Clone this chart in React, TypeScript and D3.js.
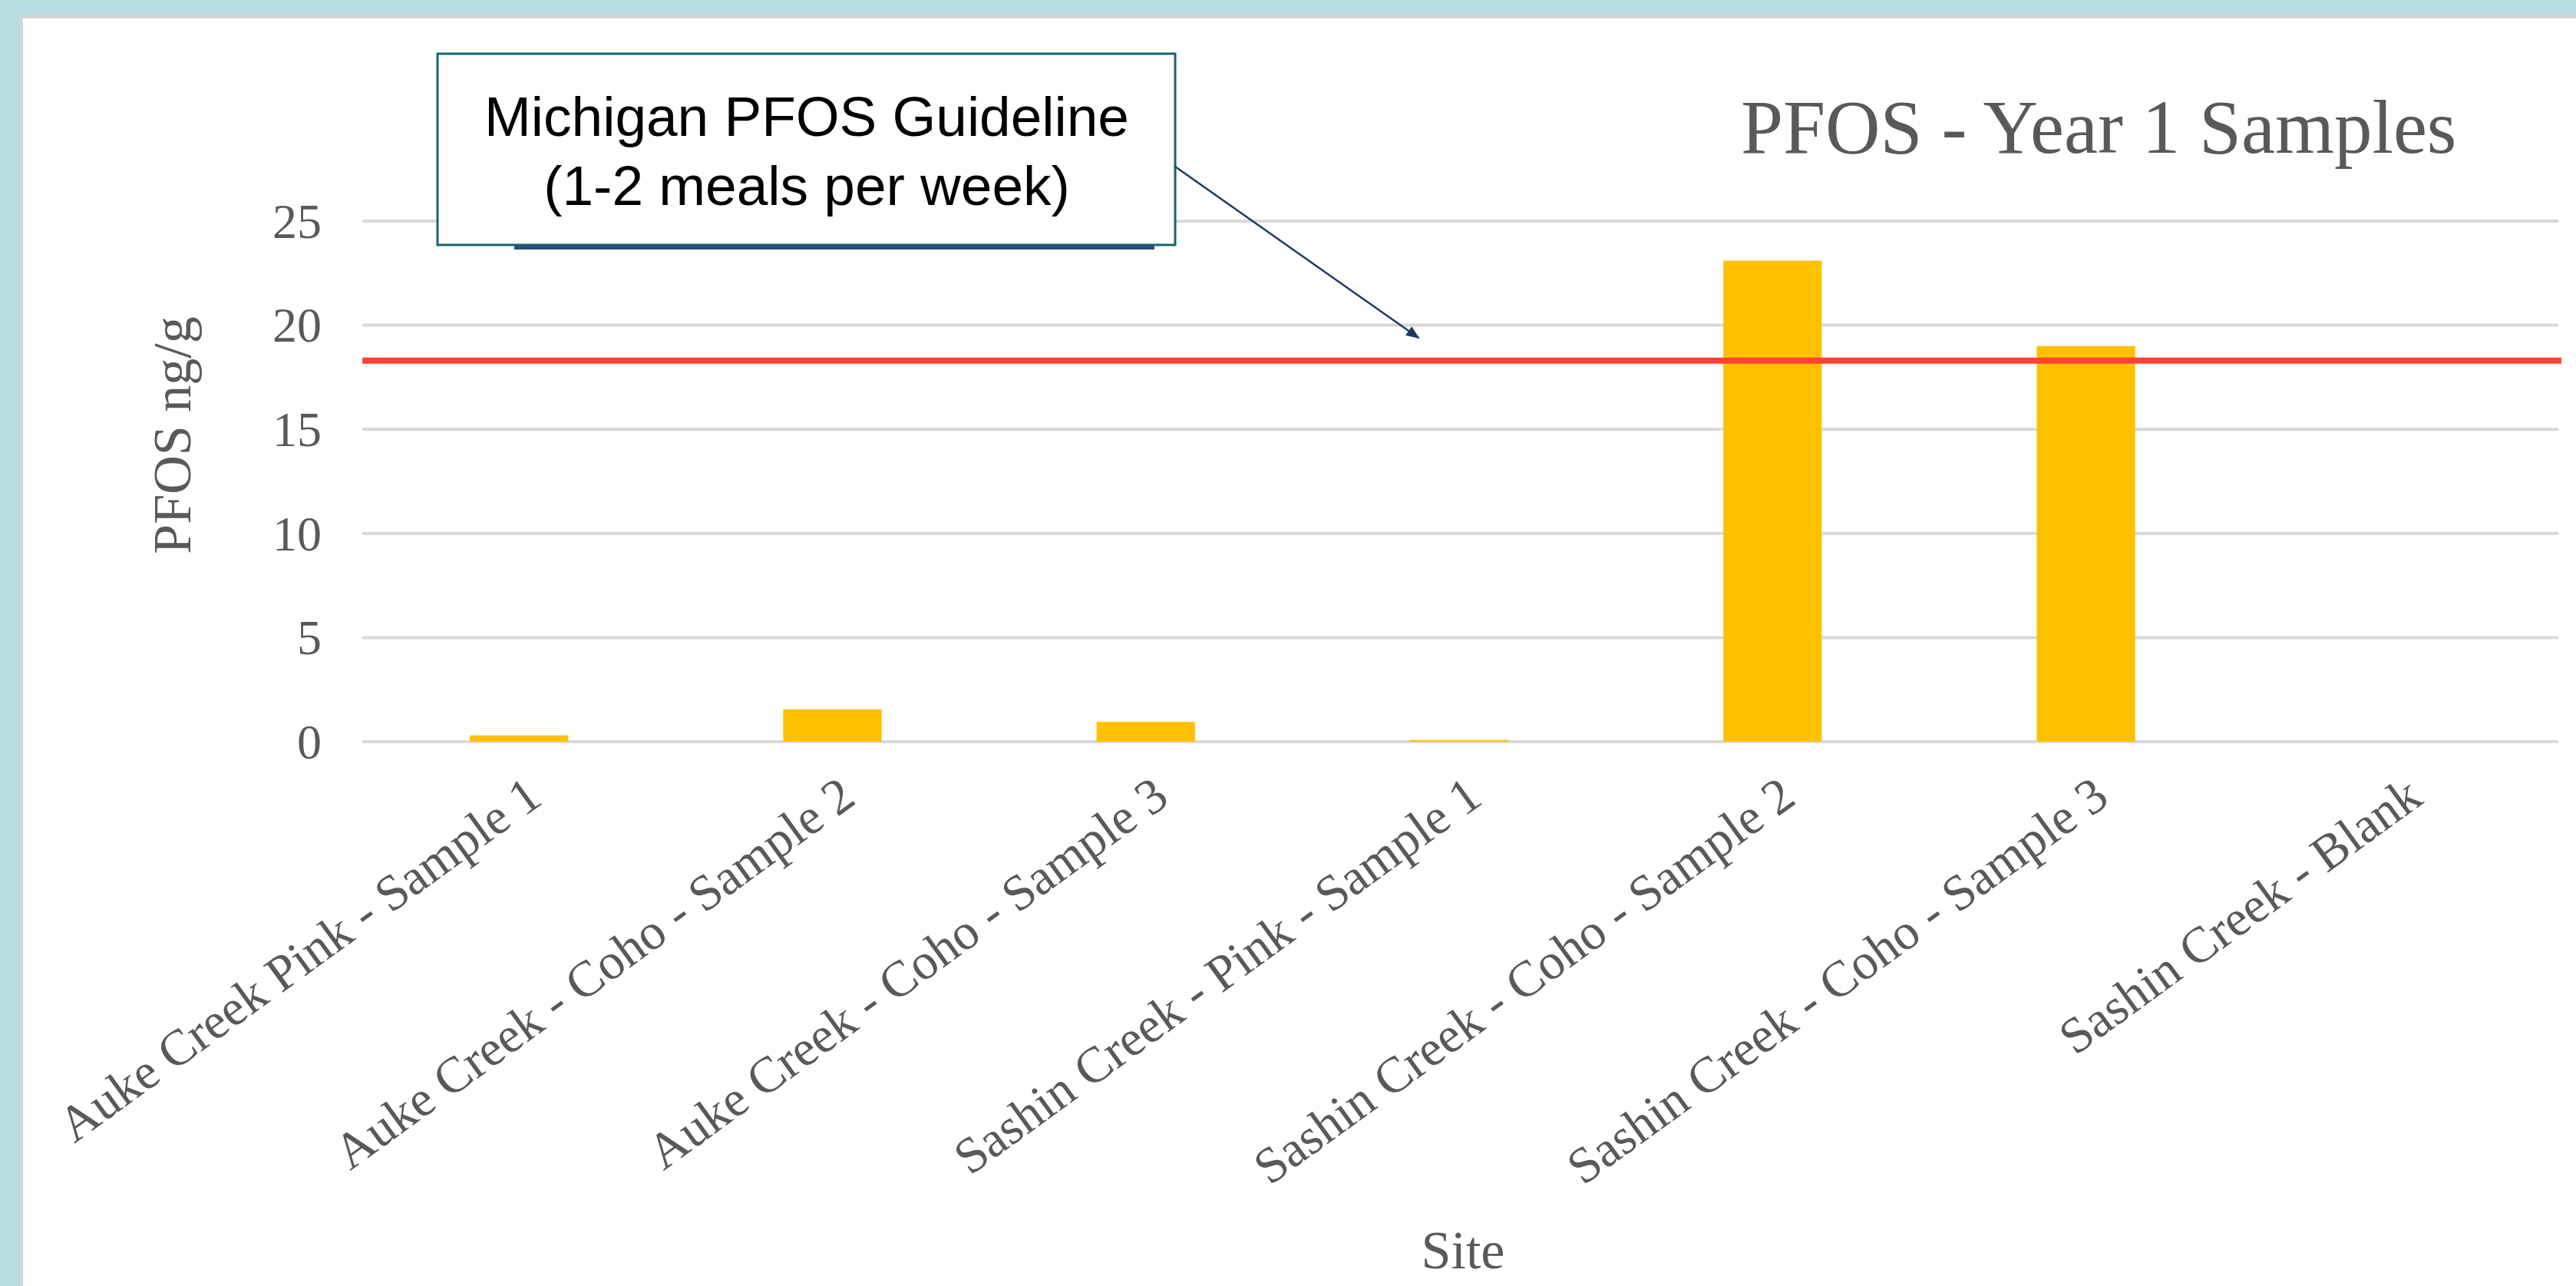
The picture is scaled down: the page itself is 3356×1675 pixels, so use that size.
import React from "react";
import { scaleBand, scaleLinear } from "d3";

// chart data
const sites = [
  "Auke Creek Pink - Sample 1",
  "Auke Creek - Coho - Sample 2",
  "Auke Creek - Coho - Sample 3",
  "Sashin Creek - Pink - Sample 1",
  "Sashin Creek - Coho - Sample 2",
  "Sashin Creek - Coho - Sample 3",
  "Sashin Creek - Blank",
];
const pfosValues = [0.3, 1.55, 0.95, 0.08, 23.1, 19.0, 0];
const yTicks = [0, 5, 10, 15, 20, 25];
const guidelineValue = 18.3;
const guidelineText = ["Michigan PFOS Guideline", "(1-2 meals per week)"];

const chartTitle = "PFOS - Year 1 Samples";
const yTitle = "PFOS ng/g";
const xTitle = "Site";

const serif = "'Liberation Serif', 'Times New Roman', serif";
const sans = "'Liberation Sans', Arial, sans-serif";
const textGray = "#595959";

function App() {
  const width = 3356;
  const height = 1675;
  const plot = { left: 472, right: 3330, top: 288, bottom: 966 };

  const xScale = scaleBand()
    .domain(sites)
    .range([plot.left, plot.right])
    .paddingInner(0.686)
    .paddingOuter(0.343);

  const yScale = scaleLinear().domain([0, 25]).range([plot.bottom, plot.top]);

  const labelAngle = -36;

  return (
    <svg
      width={width}
      height={height}
      style={{ position: "absolute", left: 0, top: 0, display: "block" }}
    >
      <defs>
        <marker
          id="arrowhead"
          viewBox="0 0 10 10"
          refX="9"
          refY="5"
          markerWidth="9"
          markerHeight="7"
          markerUnits="strokeWidth"
          orient="auto"
        >
          <path d="M0,1 L10,5 L0,9 z" fill="#1f3a60" />
        </marker>
      </defs>

      {/* slide background */}
      <rect width={width} height={height} fill="#b7dde0" />
      <rect x={25} y={19} width={width - 25} height={height - 19} fill="#d4d4d4" />
      <rect x={30} y={24} width={width - 30} height={height - 24} fill="#ffffff" />

      {/* gridlines */}
      {yTicks.map((t) => (
        <line
          key={t}
          x1={plot.left}
          x2={plot.right + 3}
          y1={yScale(t)}
          y2={yScale(t)}
          stroke="#d9d9d9"
          strokeWidth={4}
        />
      ))}

      {/* y tick labels */}
      {yTicks.map((t) => (
        <text
          key={t}
          x={419}
          y={yScale(t)}
          dy="0.34em"
          textAnchor="end"
          fontFamily={serif}
          fontSize={64}
          fill={textGray}
        >
          {t}
        </text>
      ))}

      {/* bars */}
      {sites.map((s, i) => (
        <rect
          key={s}
          x={xScale(s)}
          y={yScale(pfosValues[i])}
          width={xScale.bandwidth()}
          height={plot.bottom - yScale(pfosValues[i])}
          fill="#ffc000"
        />
      ))}

      {/* guideline */}
      <line
        x1={plot.left}
        x2={plot.right + 7}
        y1={yScale(guidelineValue)}
        y2={yScale(guidelineValue)}
        stroke="#ff4136"
        strokeWidth={8}
      />

      {/* x labels */}
      {sites.map((s) => {
        const cx = (xScale(s) as number) + xScale.bandwidth() / 2;
        return (
          <text
            key={s}
            transform={`translate(${cx + 33},${plot.bottom + 79}) rotate(${labelAngle})`}
            textAnchor="end"
            fontFamily={serif}
            fontSize={66}
            fill={textGray}
          >
            {s}
          </text>
        );
      })}

      {/* axis titles */}
      <text
        transform={`translate(248,567) rotate(-90)`}
        textAnchor="middle"
        fontFamily={serif}
        fontSize={70}
        fill={textGray}
      >
        {yTitle}
      </text>
      <text
        x={(plot.left + plot.right) / 2 + 5}
        y={1652}
        textAnchor="middle"
        fontFamily={serif}
        fontSize={70}
        fill={textGray}
      >
        {xTitle}
      </text>

      {/* chart title */}
      <text x={2268} y={199} fontFamily={serif} fontSize={99} fill={textGray}>
        {chartTitle}
      </text>

      {/* annotation callout */}
      <rect x={670} y={317} width={834} height={8} fill="#2f4b7c" />
      <rect
        x={570}
        y={70}
        width={961}
        height={249}
        fill="#ffffff"
        stroke="#16646e"
        strokeWidth={3}
      />
      {guidelineText.map((line, i) => (
        <text
          key={line}
          x={1051}
          y={177 + i * 90}
          textAnchor="middle"
          fontFamily={sans}
          fontSize={73}
          fill="#000000"
        >
          {line}
        </text>
      ))}
      <line
        x1={1531}
        y1={217}
        x2={1848}
        y2={440}
        stroke="#1f3a60"
        strokeWidth={2.5}
        markerEnd="url(#arrowhead)"
      />
    </svg>
  );
}

export default App;
